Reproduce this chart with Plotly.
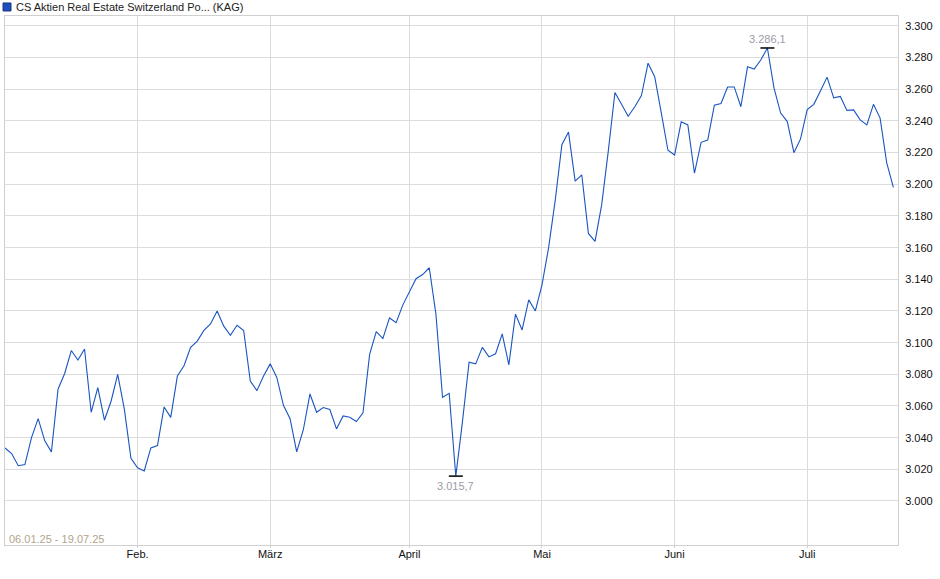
import pandas as pd
import plotly.graph_objects as go

# trading days of the fund (SIX calendar, Jan 6 - Jul 18 2025)
holidays = ["2025-04-18", "2025-04-21", "2025-05-01", "2025-05-29", "2025-06-09"]
days = pd.bdate_range("2025-01-06", "2025-07-18", freq="C", holidays=holidays)
dates = [d.strftime("%Y-%m-%d") for d in days]

# closing prices
prices = [
    3033.5, 3030.0, 3022.3, 3023.0, 3040.0, 3052.0, 3038.0, 3031.0, 3070.6, 3080.5,
    3095.0, 3089.0, 3096.0, 3056.0, 3071.6, 3051.0, 3063.0, 3080.0, 3058.0, 3027.0,
    3021.0, 3019.0, 3033.5, 3035.0, 3059.4, 3052.8, 3078.9, 3085.4, 3097.0, 3101.0,
    3107.7, 3111.8, 3120.0, 3110.4, 3104.6, 3111.0, 3107.7, 3075.8, 3069.7, 3079.0,
    3086.6, 3078.0, 3060.4, 3052.0, 3031.0, 3045.0, 3067.6, 3056.0, 3059.0, 3057.8,
    3045.5, 3053.7, 3052.9, 3050.2, 3055.7, 3092.6, 3107.0, 3102.6, 3115.6, 3112.6,
    3123.7, 3132.3, 3140.4, 3143.0, 3147.3, 3118.0, 3065.5, 3068.0, 3015.7, 3050.0,
    3087.6, 3086.6, 3097.0, 3091.0, 3093.0, 3105.5, 3086.0, 3118.0, 3108.0, 3127.0,
    3120.0, 3136.5, 3160.0, 3190.0, 3225.0, 3233.0, 3202.0, 3206.0, 3169.0, 3164.0,
    3187.0, 3221.0, 3258.0, 3250.6, 3243.0, 3249.0, 3256.0, 3276.5, 3268.0, 3245.0,
    3221.5, 3218.5, 3239.5, 3237.5, 3207.0, 3226.5, 3228.0, 3250.0, 3251.0, 3261.5,
    3261.5, 3249.0, 3274.2, 3272.8, 3278.5, 3286.1, 3260.7, 3245.0, 3239.6, 3220.0,
    3228.7, 3247.2, 3250.5, 3259.0, 3267.7, 3254.6, 3255.5, 3246.7, 3247.0, 3240.7,
    3237.5, 3250.5, 3241.8, 3213.5, 3198.0,
]

month_ticks = ["2025-02-03", "2025-03-03", "2025-04-01", "2025-05-02", "2025-06-02", "2025-07-01"]
month_labels = ["Feb.", "März", "April", "Mai", "Juni", "Juli"]
price_ticks = [3000, 3020, 3040, 3060, 3080, 3100, 3120, 3140,
               3160, 3180, 3200, 3220, 3240, 3260, 3280, 3300]

name = "CS Aktien Real Estate Switzerland Po... (KAG)"
period = "06.01.25 - 19.07.25"


def de_num(v):
    return f"{v:,.1f}".replace(",", "_").replace(".", ",").replace("_", ".")


i_max = prices.index(max(prices))
i_min = prices.index(min(prices))

fig = go.Figure()
fig.add_trace(go.Scatter(x=dates, y=prices, mode="lines",
                         line=dict(color="#1a55c0", width=1.1), hoverinfo="x+y"))
fig.add_trace(go.Scatter(x=[dates[i_max], dates[i_min]], y=[prices[i_max], prices[i_min]],
                         mode="markers",
                         marker=dict(symbol="line-ew", size=10,
                                     line=dict(color="black", width=1.5)),
                         hoverinfo="skip"))

lbl_font = dict(family="Liberation Sans, Arial", size=11, color="#9c9ca6")
fig.add_annotation(x=dates[i_max], y=prices[i_max], text=de_num(prices[i_max]),
                   showarrow=False, yanchor="bottom", yshift=1, font=lbl_font)
fig.add_annotation(x=dates[i_min], y=prices[i_min], text=de_num(prices[i_min]),
                   showarrow=False, yanchor="top", yshift=-2, font=lbl_font)
fig.add_annotation(xref="paper", yref="paper", x=0, y=0, xanchor="left", yanchor="bottom",
                   xshift=2, yshift=-2, text=period, showarrow=False,
                   font=dict(family="Liberation Sans, Arial", size=11, color="#b3a48c"))
fig.add_annotation(xref="paper", yref="paper", x=0, y=1, xanchor="left", yanchor="middle",
                   xshift=9, yshift=9, text=name, showarrow=False,
                   font=dict(family="Liberation Sans, Arial", size=11, color="#222"))
fig.add_shape(type="rect", xref="paper", yref="paper",
              x0=-0.0022, x1=0.0067, y0=1.0095, y1=1.0246,
              fillcolor="#1f4fbf", line=dict(color="#16307a", width=1))

fig.update_layout(
    width=940, height=579,
    margin=dict(l=5, r=42, t=16, b=34, autoexpand=False),
    paper_bgcolor="white", plot_bgcolor="white",
    separators=",.",
    showlegend=False,
    font=dict(family="Liberation Sans, Arial", size=11, color="#111"),
)
fig.update_xaxes(
    type="category", range=[0, 134.7],
    tickmode="array", tickvals=month_ticks, ticktext=month_labels,
    showgrid=True, gridcolor="#dcdcdc", gridwidth=1,
    showline=True, linecolor="#d0d0d0", mirror=True,
    ticks="outside", ticklen=2, tickcolor="#d0d0d0", ticklabelstandoff=-3,
)
fig.update_yaxes(
    side="right", range=[2972.2, 3306.3],
    tickmode="array", tickvals=price_ticks, tickformat=",.0f",
    showgrid=True, gridcolor="#dcdcdc", gridwidth=1,
    showline=True, linecolor="#d0d0d0", mirror=True,
    ticks="", ticklabelstandoff=4, zeroline=False,
)

fig.write_html("out.html", config={"displayModeBar": False},
               post_script="document.body.style.margin='0';")
